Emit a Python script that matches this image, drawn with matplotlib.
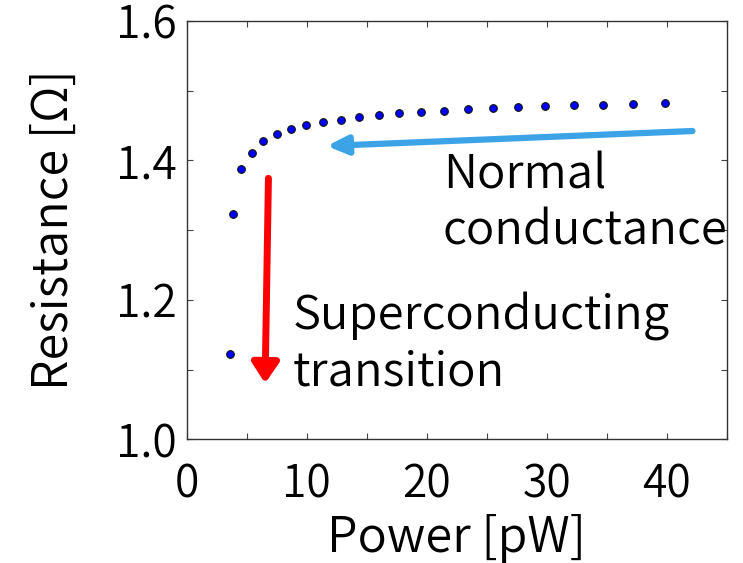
import matplotlib
matplotlib.use("Agg")
import matplotlib.pyplot as plt
from matplotlib.ticker import MultipleLocator

plt.rcParams['font.family'] = ['Noto Sans CJK JP', 'DejaVu Sans']
plt.rcParams['font.weight'] = 350
plt.rcParams['axes.labelweight'] = 350

# Data
power_pw = [3.57, 3.87, 4.52, 5.46, 6.38, 7.50, 8.72, 9.97, 11.37, 12.81, 14.35,
            16.02, 17.69, 19.49, 21.47, 23.42, 25.54, 27.62, 29.88, 32.27, 34.69,
            37.23, 39.82]
resistance = [1.1228, 1.3236, 1.3873, 1.4111, 1.4274, 1.4375, 1.4446, 1.4512,
              1.4547, 1.4584, 1.4627, 1.4651, 1.4676, 1.4699, 1.4713, 1.4738,
              1.4752, 1.4762, 1.4776, 1.4791, 1.4799, 1.4814, 1.4824]

x_ticks = [0, 10, 20, 30, 40]
y_ticks = [1.0, 1.2, 1.4, 1.6]
annot_normal = "Normal\nconductance"
annot_super = "Superconducting\ntransition"

fig = plt.figure(figsize=(7.43, 5.63), dpi=100)
ax = fig.add_axes([0.2515, 0.2197, 0.978 - 0.2515, 0.9627 - 0.2197])

ax.plot(power_pw, resistance, linestyle='none', marker='o', markersize=5.5,
        markerfacecolor='#0000ff', markeredgecolor='#111111', markeredgewidth=0.8)

# arrows
ax.annotate('', xy=(11.67, 1.4207), xytext=(42.15, 1.4422),
            arrowprops=dict(arrowstyle='-|>,head_length=1.2,head_width=0.55',
                            color='#3ba3e6', lw=4.5, shrinkA=0, shrinkB=0))
ax.annotate('', xy=(6.52, 1.0803), xytext=(6.80, 1.3744),
            arrowprops=dict(arrowstyle='-|>,head_length=1.2,head_width=0.8',
                            color='#ff0000', lw=5, shrinkA=0, shrinkB=0))

ax.text(21.35, 1.413, annot_normal, fontsize=34, va='top', ha='left',
        linespacing=1.19)
ax.text(8.80, 1.212, annot_super, fontsize=34, va='top', ha='left',
        linespacing=1.19)

ax.set_xlim(0, 45)
ax.set_ylim(1.0, 1.6)
ax.set_xticks(x_ticks)
ax.set_yticks(y_ticks)
ax.set_yticklabels([f"{v:.1f}" for v in y_ticks])
ax.xaxis.set_minor_locator(MultipleLocator(5))
ax.yaxis.set_minor_locator(MultipleLocator(0.1))
ax.tick_params(which='both', direction='in', top=True, right=True,
               length=4, width=0.8, color='#444444')
ax.tick_params(axis='x', which='major', labelsize=32, pad=16)
ax.tick_params(axis='y', which='major', labelsize=32, pad=7)
for s in ax.spines.values():
    s.set_color('#333333')
    s.set_linewidth(1.0)

ax.set_xlabel('Power [pW]', fontsize=35, labelpad=4)
ax.set_ylabel('Resistance [Ω]', fontsize=35, labelpad=27)

fig.savefig('out.png', dpi=100)
